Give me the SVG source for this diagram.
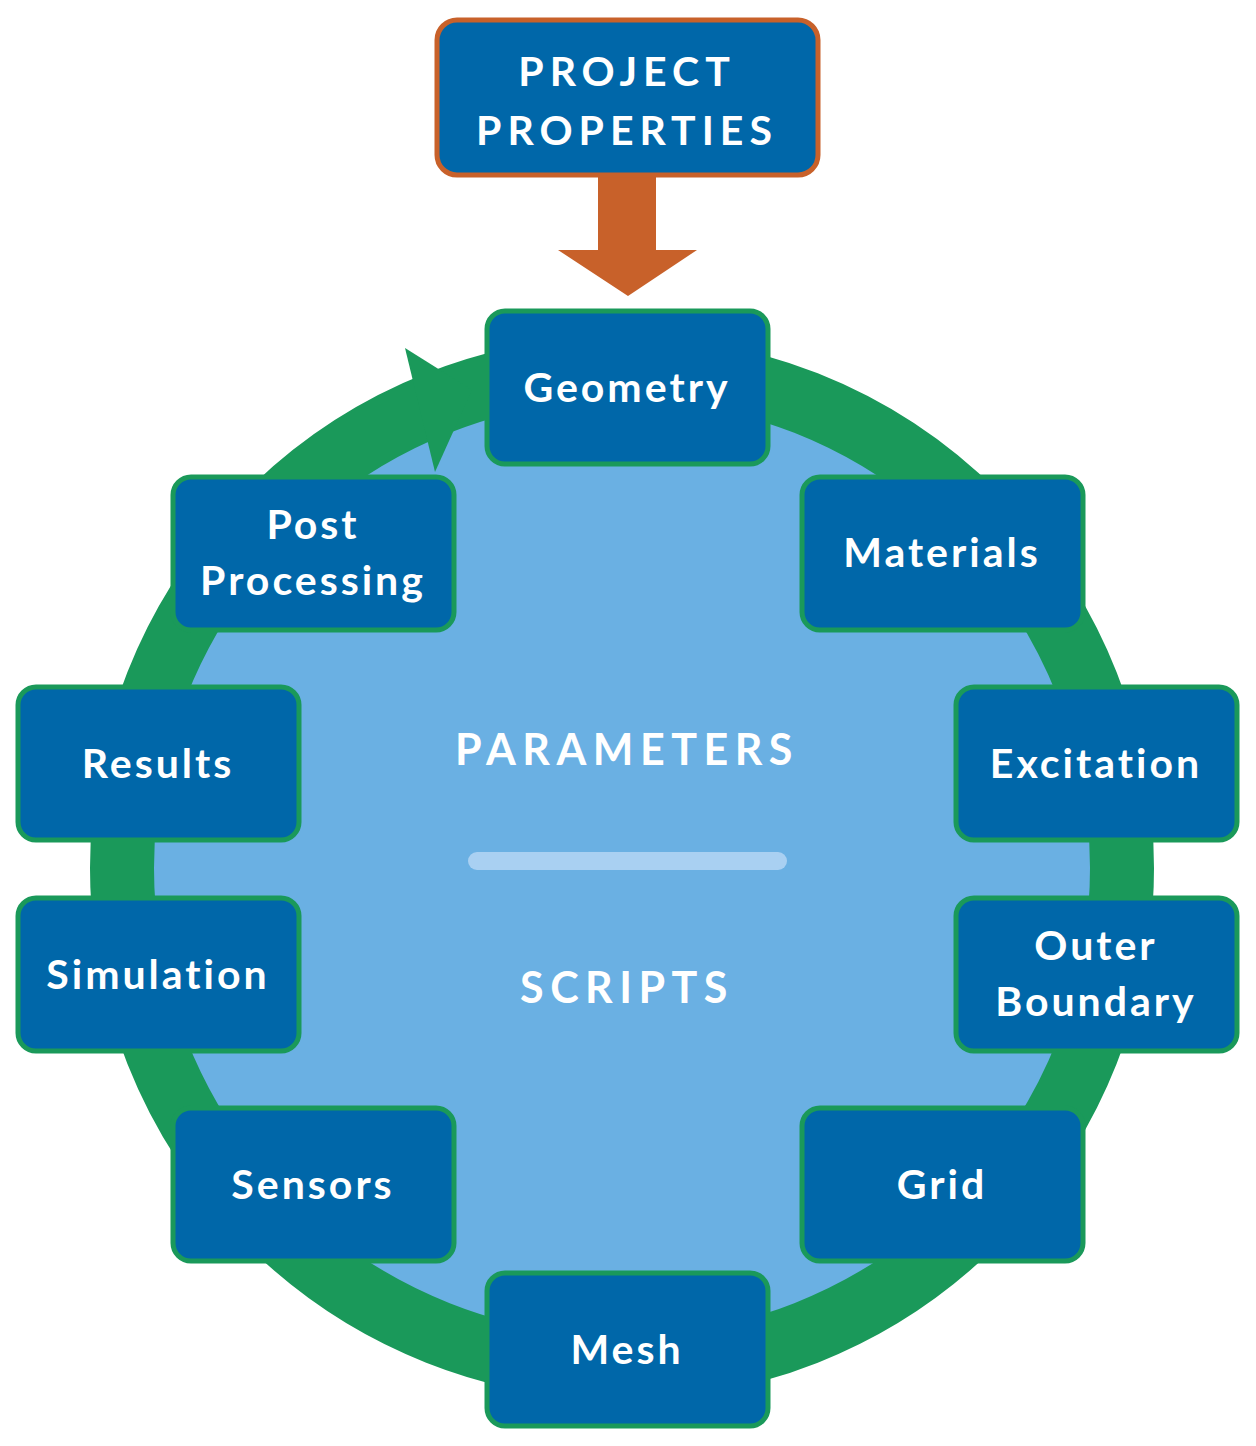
<svg xmlns="http://www.w3.org/2000/svg" width="1256" height="1446" viewBox="0 0 1256 1446">
<style>
.n{fill:#0067a9;stroke:#1a995a;stroke-width:5}
.t{font-family:Lato,"Open Sans",sans-serif;font-weight:bold;font-size:41px;fill:#fff;text-anchor:middle;letter-spacing:3px}
.c{font-family:Lato,"Open Sans",sans-serif;font-weight:bold;font-size:43px;fill:#fff;text-anchor:middle;letter-spacing:6.5px}
</style>
<rect width="1256" height="1446" fill="#fff"/>
<g id="cycle">
<circle cx="622" cy="868" r="500" fill="#6ab0e3" stroke="#1a995a" stroke-width="64"/>
<rect x="468" y="852" width="319" height="18" rx="9" fill="#a9d0f2"/>
<text class="c" x="627" y="765">PARAMETERS</text>
<text class="c" x="627" y="1003">SCRIPTS</text>
</g>
<g id="connectors">
<polygon points="405,348 472,390 435,472" fill="#1a995a"/>
<polygon points="598,173 656,173 656,250 697,250 628,296 558,250 598,250" fill="#c8612a"/>
</g>
<g id="project"><rect class="n" x="437" y="20" width="381" height="155" rx="20" style="stroke:#c8612a"/>
<text class="t" x="627" y="86" style="letter-spacing:6px">PROJECT</text><text class="t" x="627" y="145" style="letter-spacing:6px">PROPERTIES</text></g>
<g id="geometry"><rect class="n" x="487" y="311" width="281" height="153" rx="18"/><text class="t" x="627" y="402">Geometry</text></g>
<g id="materials"><rect class="n" x="802" y="477" width="281" height="153" rx="18"/><text class="t" x="942" y="567">Materials</text></g>
<g id="excitation"><rect class="n" x="956" y="687" width="281" height="153" rx="18"/><text class="t" x="1096" y="778">Excitation</text></g>
<g id="outer"><rect class="n" x="956" y="898" width="281" height="153" rx="18"/><text class="t" x="1096" y="960">Outer</text><text class="t" x="1096" y="1016">Boundary</text></g>
<g id="grid"><rect class="n" x="802" y="1108" width="281" height="153" rx="18"/><text class="t" x="942" y="1199">Grid</text></g>
<g id="mesh"><rect class="n" x="487" y="1273" width="281" height="153" rx="18"/><text class="t" x="627" y="1364">Mesh</text></g>
<g id="sensors"><rect class="n" x="173" y="1108" width="281" height="153" rx="18"/><text class="t" x="313" y="1199">Sensors</text></g>
<g id="simulation"><rect class="n" x="18" y="898" width="281" height="153" rx="18"/><text class="t" x="158" y="989">Simulation</text></g>
<g id="results"><rect class="n" x="18" y="687" width="281" height="153" rx="18"/><text class="t" x="158" y="778">Results</text></g>
<g id="post"><rect class="n" x="173" y="477" width="281" height="153" rx="18"/><text class="t" x="313" y="539">Post</text><text class="t" x="313" y="595">Processing</text></g>
</svg>
